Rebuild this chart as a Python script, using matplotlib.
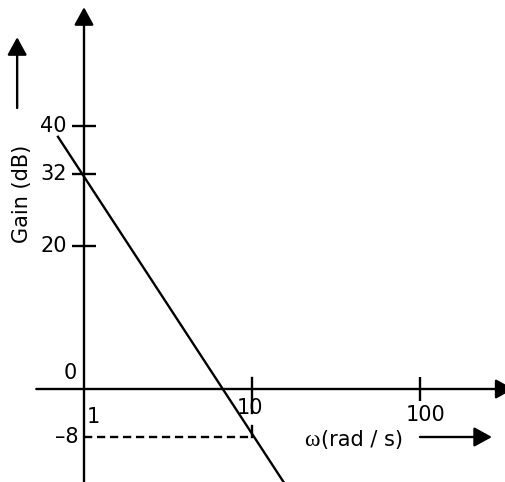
import numpy as np
import matplotlib.pyplot as plt

# asymptotic magnitude line
omega_line = [0.7, 16.0]
gain_line = [38.2, -16.2]

# marked values
gain_ticks = [40, 32, 20]
omega_ticks = [10, 100]
omega_cross = 10
gain_cross = -8

# the sketch is not drawn to scale on the gain axis
db_knots = [-200, -8, 0, 20, 32, 40, 200]
px_knots = [-1107, 45, 93, 236, 308, 356, 1316]


def fwd(y):
    return np.interp(y, db_knots, px_knots)


def inv(p):
    return np.interp(p, px_knots, db_knots)


fig = plt.figure(figsize=(5.06, 4.82), dpi=100)
ax = fig.add_axes([0, 0, 1, 1])
ax.set_xscale('log')
ax.set_yscale('function', functions=(fwd, inv))
ax.set_xlim(10 ** -0.5, 10 ** (422 / 168))
ax.set_ylim(-15.5, 61)
ax.axis('off')

lw = 1.7
fs = 15
arr = dict(arrowstyle='-|>,head_length=0.4,head_width=0.22', color='black',
           lw=lw, shrinkA=0, shrinkB=0, mutation_scale=27)

# axes with arrows
ax.annotate('', xy=(1, 59.8), xytext=(1, -15.5), arrowprops=arr,
            annotation_clip=False)
ax.annotate('', xy=(360, 0), xytext=(0.52, 0), arrowprops=arr,
            annotation_clip=False)

# ticks
ax.plot([1] * len(gain_ticks), gain_ticks, ls='none', marker='_',
        ms=17, mew=lw, color='black')
ax.plot([omega_ticks[1]], [0], ls='none', marker='|', ms=17, mew=lw,
        color='black')
ax.plot([omega_ticks[0]] * 2, [1.5, -4.0], color='black', lw=lw)
ax.plot([omega_cross] * 2, [-6.2, gain_cross], color='black', lw=lw)

# gain line and dashed guide
ax.plot(omega_line, gain_line, color='black', lw=1.7)
ax.plot([1, omega_cross], [gain_cross, gain_cross], color='black', lw=lw,
        dashes=(3.5, 2))

# labels
for g in gain_ticks:
    ax.text(0.79, g, str(g), ha='right', va='center', fontsize=fs)
ax.text(0.825, 2.2, '0', ha='center', va='center', fontsize=fs)
ax.text(0.93, gain_cross, '\u2013' + str(-gain_cross), ha='right',
        va='center', fontsize=fs)
ax.text(1.13, -4.7, '1', ha='center', va='center', fontsize=fs)
ax.text(9.7, -3.2, '10', ha='center', va='center', fontsize=fs)
ax.text(108, -4.3, '100', ha='center', va='center', fontsize=fs)
ax.text(25.4, -8.6, '\u03c9', ha='right', va='center', fontsize=fs + 2,
        family='Liberation Serif')
ax.text(25.6, -8.5, '(rad / s)', ha='left', va='center', fontsize=fs)
ax.annotate('', xy=(268, -8), xytext=(100, -8), arrowprops=arr,
            annotation_clip=False)

ax.text(0.43, 28.7, 'Gain (dB)', rotation=90, ha='center', va='center',
        fontsize=fs)
ax.annotate('', xy=(0.4, 54.8), xytext=(0.4, 43), arrowprops=arr,
            annotation_clip=False)

fig.savefig('out.png', dpi=100)
